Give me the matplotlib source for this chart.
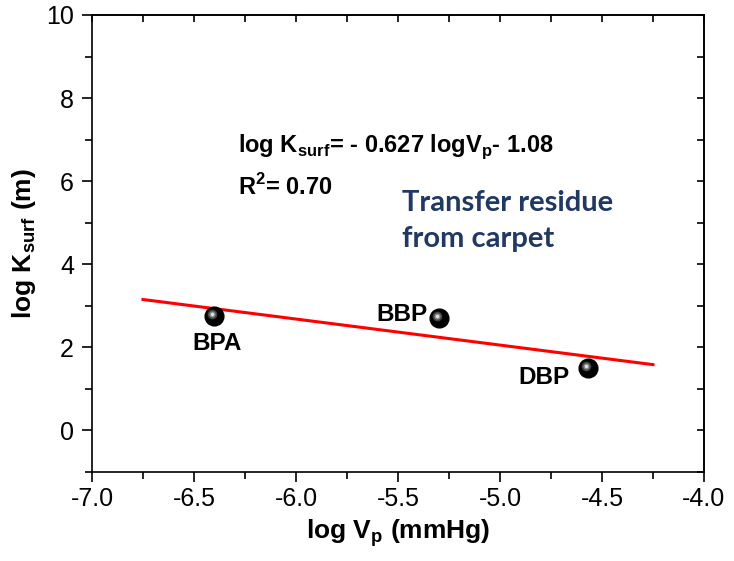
import matplotlib
matplotlib.use("Agg")
import matplotlib.pyplot as plt
from matplotlib.transforms import offset_copy

plt.rcParams['font.family'] = ['Liberation Sans', 'DejaVu Sans']
plt.rcParams['mathtext.fontset'] = 'custom'
plt.rcParams['mathtext.rm'] = 'Liberation Sans'
plt.rcParams['mathtext.bf'] = 'Liberation Sans:bold'

# data
names = ["BPA", "BBP", "DBP"]
log_vp = [-6.40, -5.30, -4.57]
log_ksurf = [2.75, 2.70, 1.50]

# fit line: log K = slope * log Vp + icpt
slope = -0.627
icpt = -1.08
fit_x = [-6.75, -4.25]
fit_y = [slope * x + icpt for x in fit_x]

xticks = [-7.0, -6.5, -6.0, -5.5, -5.0, -4.5, -4.0]
xminor = [-6.75, -6.25, -5.75, -5.25, -4.75, -4.25]
yticks = [0, 2, 4, 6, 8, 10]
yminor = [-1, 1, 3, 5, 7, 9]

fig = plt.figure(figsize=(7.34, 5.61), dpi=100)
fig.subplots_adjust(left=0.1253, right=0.9591, top=0.9733, bottom=0.1586)
ax = fig.add_subplot(111)

ax.plot(fit_x, fit_y, color="red", lw=2.2, zorder=2)

# shiny black spheres
ax.plot(log_vp, log_ksurf, "o", ms=13.5, color="black", mec="black", zorder=3)
shift = offset_copy(ax.transData, fig=fig, x=-1.5, y=1.5, units="points")
ax.plot(log_vp, log_ksurf, "o", ms=7, color="#444444", mew=0, transform=shift, zorder=4)
ax.plot(log_vp, log_ksurf, "o", ms=4.5, color="#8a8a8a", mew=0, transform=shift, zorder=5)
ax.plot(log_vp, log_ksurf, "o", ms=2.5, color="#e0e0e0", mew=0, transform=shift, zorder=6)

# point labels
offsets = {"BPA": (2, -24, "center"), "BBP": (-8, -2, "right"), "DBP": (-13, -11.5, "right")}
for n, x, y in zip(names, log_vp, log_ksurf):
    dx, dy, ha = offsets[n]
    ax.annotate(n, (x, y), xytext=(dx, dy), textcoords="offset points",
                ha=ha, va="baseline", fontsize=17.5, fontweight="bold")

ax.text(-6.284, 6.70, r"log K$_\mathbf{surf}$= - 0.627 logV$_\mathbf{p}$- 1.08",
        fontsize=17, fontweight="bold", va="baseline")
ax.text(-6.284, 5.67, r"R$^\mathbf{2}$= 0.70", fontsize=17, fontweight="bold", va="baseline")
ax.text(-5.48, 4.42, "Transfer residue\nfrom carpet", family=["Lato", "DejaVu Sans"],
        fontsize=21, fontweight="bold", color="#1f3864", va="baseline", linespacing=1.45)

ax.set_xlim(-7.0, -4.0)
ax.set_ylim(-1, 10)
ax.set_xticks(xticks)
ax.set_xticklabels(["%.1f" % t for t in xticks])
ax.set_xticks(xminor, minor=True)
ax.set_yticks(yticks)
ax.set_yticks(yminor, minor=True)
ax.tick_params(which="both", direction="out", labelsize=18, width=1.2)
ax.tick_params(which="major", length=7)
ax.tick_params(which="minor", length=5)
ax.tick_params(axis="x", pad=4)
ax.tick_params(axis="y", pad=6)

# inward ticks on top and right
top = ax.secondary_xaxis("top")
top.set_xticks(xticks)
top.set_xticks(xminor, minor=True)
top.tick_params(which="both", direction="in", length=5, width=1.2, labeltop=False)
right = ax.secondary_yaxis("right")
right.set_yticks(yticks)
right.set_yticks(yminor, minor=True)
right.tick_params(which="both", direction="in", length=5, width=1.2, labelright=False)

for s in list(ax.spines.values()) + [top.spines["top"], right.spines["right"]]:
    s.set_linewidth(1.2)

ax.set_xlabel(r"log V$_\mathbf{p}$ (mmHg)", fontsize=19, fontweight="bold", labelpad=4)
ax.set_ylabel(r"log K$_\mathbf{surf}$ (m)", fontsize=19, fontweight="bold", labelpad=6)

fig.savefig("out.png", dpi=100)
